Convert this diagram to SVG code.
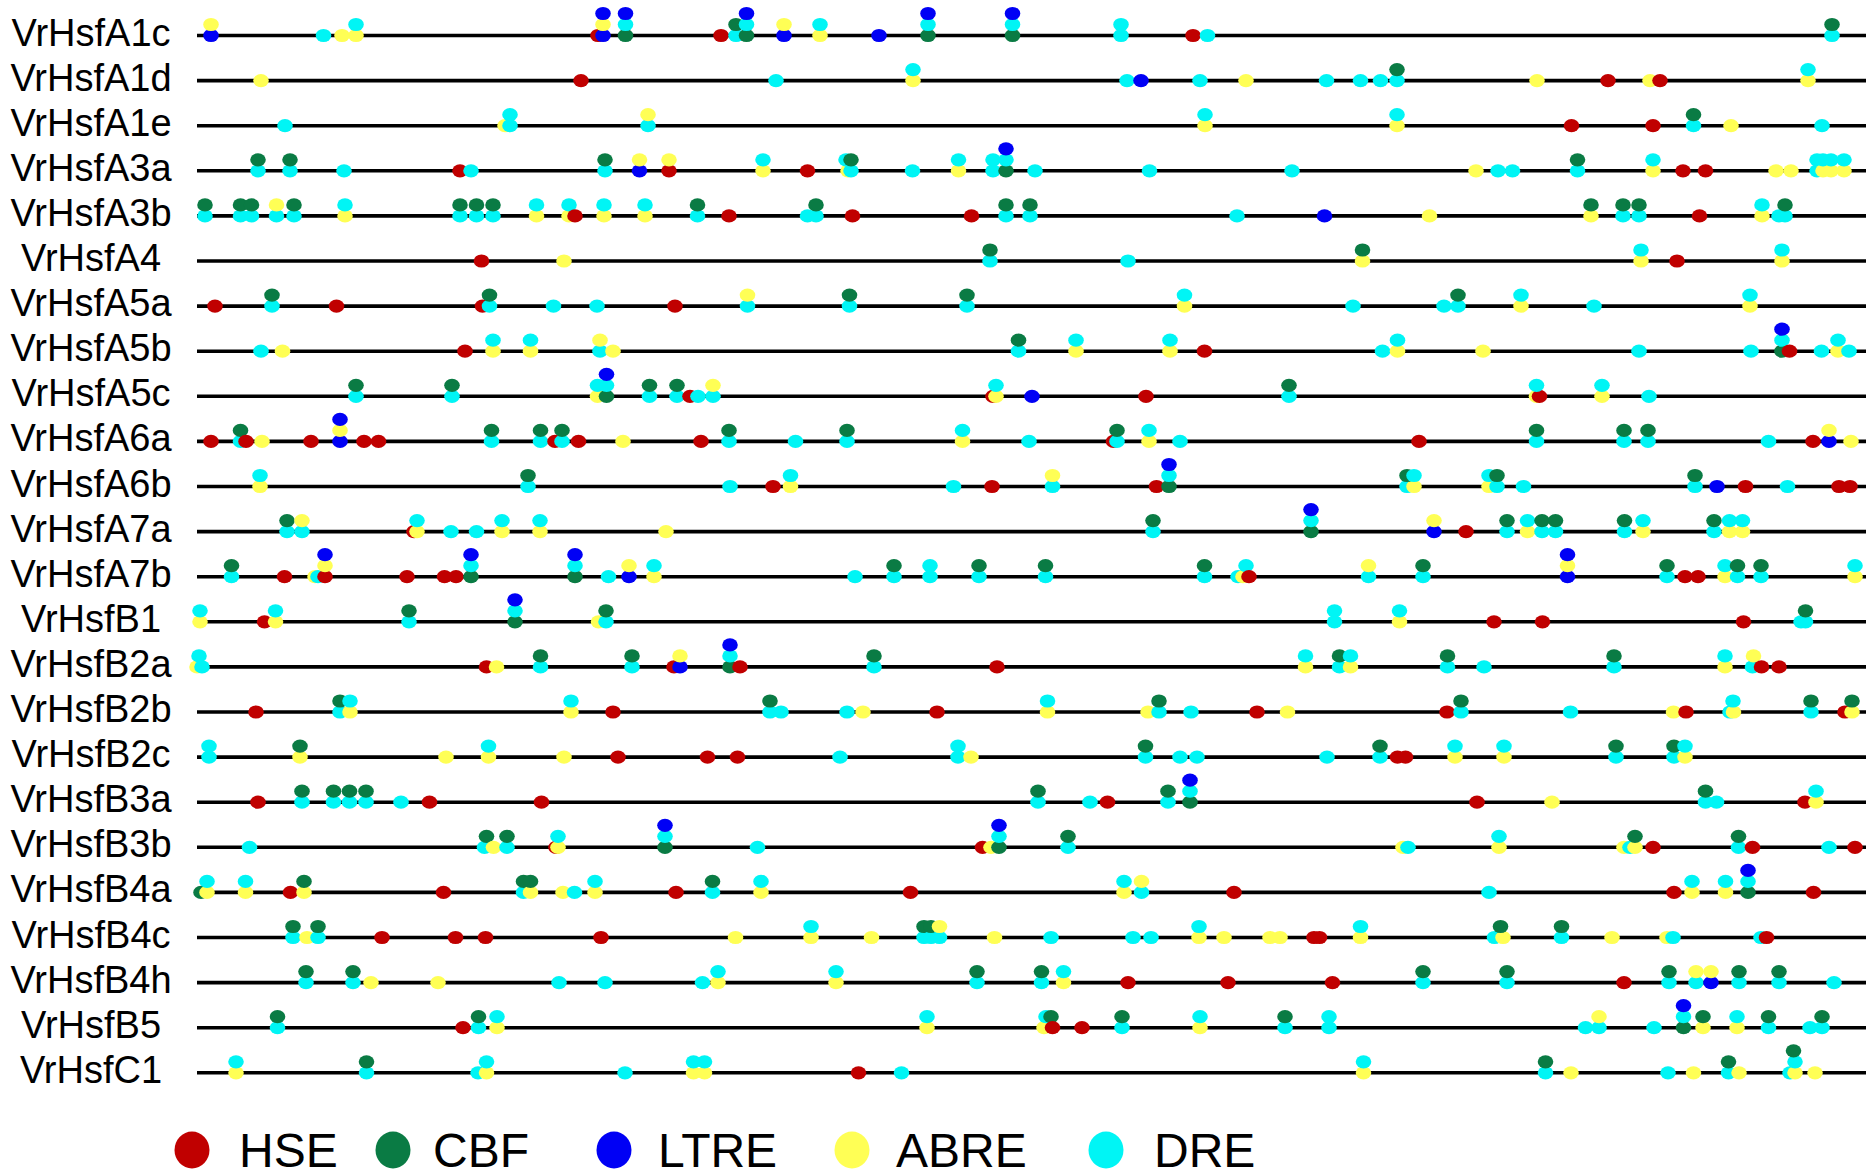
<svg xmlns="http://www.w3.org/2000/svg" xmlns:xlink="http://www.w3.org/1999/xlink" width="1870" height="1174" viewBox="0 0 1870 1174">
<style>
.ln{stroke:#000;stroke-width:3.6}
.lb{font-family:"Liberation Sans",Arial,sans-serif;font-size:38px;fill:#000;text-anchor:middle}
.lg{font-family:"Liberation Sans",Arial,sans-serif;font-size:48px;fill:#000}
</style>
<defs>
<ellipse id="h" rx="7.8" ry="6.6" fill="#c00000"/>
<ellipse id="c" rx="7.8" ry="6.6" fill="#0a7b44"/>
<ellipse id="l" rx="7.8" ry="6.6" fill="#0000f5"/>
<ellipse id="a" rx="7.8" ry="6.6" fill="#ffff55"/>
<ellipse id="d" rx="7.8" ry="6.6" fill="#00f5f5"/>
</defs>
<rect width="1870" height="1174" fill="#fff"/>

<g id="VrHsfA1c" transform="translate(0,35.5)">
<line class="ln" x1="197" x2="1866"/><text class="lb" x="91" y="10">VrHsfA1c</text>
<use href="#l" x="211"/><use href="#a" x="211" y="-11"/><use href="#d" x="323.5"/><use href="#a" x="342"/><use href="#a" x="356"/><use href="#d" x="356" y="-11"/>
<use href="#h" x="598"/><use href="#l" x="603"/><use href="#a" x="603" y="-11"/><use href="#l" x="603" y="-22"/><use href="#c" x="625.5"/><use href="#d" x="625.5" y="-11"/><use href="#l" x="625.5" y="-22"/>
<use href="#h" x="721"/><use href="#d" x="736"/><use href="#c" x="736" y="-11"/><use href="#c" x="746.5"/><use href="#d" x="746.5" y="-11"/><use href="#l" x="746.5" y="-22"/>
<use href="#l" x="784"/><use href="#a" x="784" y="-11"/><use href="#a" x="820"/><use href="#d" x="820" y="-11"/><use href="#l" x="879"/>
<use href="#c" x="928"/><use href="#d" x="928" y="-11"/><use href="#l" x="928" y="-22"/><use href="#c" x="1012.5"/><use href="#d" x="1012.5" y="-11"/><use href="#l" x="1012.5" y="-22"/>
<use href="#d" x="1121"/><use href="#d" x="1121" y="-11"/><use href="#h" x="1193"/><use href="#d" x="1207.5"/><use href="#d" x="1832"/><use href="#c" x="1832" y="-11"/>
</g>

<g id="VrHsfA1d" transform="translate(0,80.6)">
<line class="ln" x1="197" x2="1866"/><text class="lb" x="91" y="10">VrHsfA1d</text>
<use href="#a" x="261"/><use href="#h" x="581"/><use href="#d" x="776"/><use href="#a" x="913"/><use href="#d" x="913" y="-11"/><use href="#d" x="1127"/><use href="#l" x="1141"/><use href="#d" x="1200"/><use href="#a" x="1246"/>
<use href="#d" x="1326.5"/><use href="#d" x="1360.5"/><use href="#d" x="1380.5"/><use href="#d" x="1397"/><use href="#c" x="1397" y="-11"/><use href="#a" x="1537"/><use href="#h" x="1608"/><use href="#a" x="1650"/><use href="#h" x="1660"/><use href="#a" x="1808"/><use href="#d" x="1808" y="-11"/>
</g>

<g id="VrHsfA1e" transform="translate(0,125.7)">
<line class="ln" x1="197" x2="1866"/><text class="lb" x="91" y="10">VrHsfA1e</text>
<use href="#d" x="285"/><use href="#a" x="505"/><use href="#d" x="510"/><use href="#d" x="510" y="-11"/><use href="#d" x="648"/><use href="#a" x="648" y="-11"/><use href="#a" x="1205"/><use href="#d" x="1205" y="-11"/>
<use href="#a" x="1397"/><use href="#d" x="1397" y="-11"/><use href="#h" x="1571.5"/><use href="#h" x="1653"/><use href="#d" x="1693.5"/><use href="#c" x="1693.5" y="-11"/><use href="#a" x="1731"/><use href="#d" x="1822"/>
</g>

<g id="VrHsfA3a" transform="translate(0,170.8)">
<line class="ln" x1="197" x2="1866"/><text class="lb" x="91" y="10">VrHsfA3a</text>
<use href="#d" x="258"/><use href="#c" x="258" y="-11"/><use href="#d" x="290"/><use href="#c" x="290" y="-11"/><use href="#d" x="344"/><use href="#h" x="460"/><use href="#d" x="471"/><use href="#d" x="605"/><use href="#c" x="605" y="-11"/>
<use href="#l" x="639.5"/><use href="#a" x="639.5" y="-11"/><use href="#h" x="669"/><use href="#a" x="669" y="-11"/><use href="#a" x="763"/><use href="#d" x="763" y="-11"/><use href="#h" x="807.5"/>
<use href="#a" x="848"/><use href="#d" x="851"/><use href="#d" x="846" y="-11"/><use href="#c" x="851" y="-11"/><use href="#d" x="912.5"/><use href="#a" x="958.5"/><use href="#d" x="958.5" y="-11"/>
<use href="#d" x="993"/><use href="#d" x="993" y="-11"/><use href="#c" x="1006"/><use href="#d" x="1006" y="-11"/><use href="#l" x="1006" y="-22"/><use href="#d" x="1035"/><use href="#d" x="1149.5"/>
<use href="#d" x="1292"/><use href="#a" x="1476"/><use href="#d" x="1498"/><use href="#d" x="1512.5"/><use href="#d" x="1577.5"/><use href="#c" x="1577.5" y="-11"/><use href="#a" x="1653"/><use href="#d" x="1653" y="-11"/>
<use href="#h" x="1683"/><use href="#h" x="1705.5"/><use href="#a" x="1776"/><use href="#a" x="1791"/><use href="#d" x="1817"/><use href="#d" x="1817" y="-11"/><use href="#a" x="1823"/><use href="#d" x="1823" y="-11"/><use href="#a" x="1831"/><use href="#d" x="1831" y="-11"/><use href="#a" x="1844"/><use href="#d" x="1844" y="-11"/>
</g>

<g id="VrHsfA3b" transform="translate(0,215.9)">
<line class="ln" x1="197" x2="1866"/><text class="lb" x="91" y="10">VrHsfA3b</text>
<use href="#d" x="205"/><use href="#c" x="205" y="-11"/><use href="#d" x="240.5"/><use href="#c" x="240.5" y="-11"/><use href="#d" x="251.5"/><use href="#c" x="251.5" y="-11"/><use href="#d" x="276.5"/><use href="#a" x="276.5" y="-11"/><use href="#d" x="294"/><use href="#c" x="294" y="-11"/>
<use href="#a" x="345"/><use href="#d" x="345" y="-11"/><use href="#d" x="460"/><use href="#c" x="460" y="-11"/><use href="#d" x="476.5"/><use href="#c" x="476.5" y="-11"/><use href="#d" x="493"/><use href="#c" x="493" y="-11"/>
<use href="#a" x="536.5"/><use href="#d" x="536.5" y="-11"/><use href="#a" x="569"/><use href="#d" x="569" y="-11"/><use href="#h" x="575"/><use href="#a" x="604"/><use href="#d" x="604" y="-11"/><use href="#a" x="645"/><use href="#d" x="645" y="-11"/>
<use href="#d" x="697.5"/><use href="#c" x="697.5" y="-11"/><use href="#h" x="729"/><use href="#d" x="807.5"/><use href="#d" x="816"/><use href="#c" x="816" y="-11"/><use href="#h" x="852.5"/><use href="#h" x="971.5"/>
<use href="#d" x="1006"/><use href="#c" x="1006" y="-11"/><use href="#d" x="1030"/><use href="#c" x="1030" y="-11"/><use href="#d" x="1237"/><use href="#l" x="1324.5"/><use href="#a" x="1429.5"/>
<use href="#a" x="1591"/><use href="#c" x="1591" y="-11"/><use href="#d" x="1623"/><use href="#c" x="1623" y="-11"/><use href="#d" x="1639"/><use href="#c" x="1639" y="-11"/><use href="#h" x="1699.5"/><use href="#a" x="1762"/><use href="#d" x="1762" y="-11"/><use href="#d" x="1779"/><use href="#d" x="1785"/><use href="#c" x="1785" y="-11"/>
</g>

<g id="VrHsfA4" transform="translate(0,261)">
<line class="ln" x1="197" x2="1866"/><text class="lb" x="91" y="10">VrHsfA4</text>
<use href="#h" x="481.5"/><use href="#a" x="564"/><use href="#d" x="990"/><use href="#c" x="990" y="-11"/><use href="#d" x="1128"/><use href="#a" x="1362.5"/><use href="#c" x="1362.5" y="-11"/>
<use href="#a" x="1641"/><use href="#d" x="1641" y="-11"/><use href="#h" x="1677"/><use href="#a" x="1782"/><use href="#d" x="1782" y="-11"/>
</g>

<g id="VrHsfA5a" transform="translate(0,306.1)">
<line class="ln" x1="197" x2="1866"/><text class="lb" x="91" y="10">VrHsfA5a</text>
<use href="#h" x="215"/><use href="#d" x="272"/><use href="#c" x="272" y="-11"/><use href="#h" x="336.5"/><use href="#h" x="482.5"/><use href="#d" x="489.5"/><use href="#c" x="489.5" y="-11"/><use href="#d" x="553.5"/><use href="#d" x="597"/>
<use href="#h" x="675"/><use href="#d" x="747.5"/><use href="#a" x="747.5" y="-11"/><use href="#d" x="849.5"/><use href="#c" x="849.5" y="-11"/><use href="#d" x="967"/><use href="#c" x="967" y="-11"/><use href="#a" x="1184.5"/><use href="#d" x="1184.5" y="-11"/>
<use href="#d" x="1353"/><use href="#d" x="1444"/><use href="#d" x="1458"/><use href="#c" x="1458" y="-11"/><use href="#a" x="1521"/><use href="#d" x="1521" y="-11"/><use href="#d" x="1594"/><use href="#a" x="1750"/><use href="#d" x="1750" y="-11"/>
</g>

<g id="VrHsfA5b" transform="translate(0,351.2)">
<line class="ln" x1="197" x2="1866"/><text class="lb" x="91" y="10">VrHsfA5b</text>
<use href="#d" x="261"/><use href="#a" x="282.5"/><use href="#h" x="465"/><use href="#a" x="493"/><use href="#d" x="493" y="-11"/><use href="#a" x="530.5"/><use href="#d" x="530.5" y="-11"/><use href="#d" x="600"/><use href="#a" x="600" y="-11"/><use href="#a" x="613"/>
<use href="#d" x="1018.5"/><use href="#c" x="1018.5" y="-11"/><use href="#a" x="1076"/><use href="#d" x="1076" y="-11"/><use href="#a" x="1170"/><use href="#d" x="1170" y="-11"/><use href="#h" x="1204.5"/>
<use href="#d" x="1382.5"/><use href="#a" x="1397.5"/><use href="#d" x="1397.5" y="-11"/><use href="#a" x="1483"/><use href="#d" x="1639"/><use href="#d" x="1751"/><use href="#c" x="1782"/><use href="#d" x="1782" y="-11"/><use href="#l" x="1782" y="-22"/><use href="#h" x="1789.5"/>
<use href="#d" x="1821.5"/><use href="#a" x="1838"/><use href="#d" x="1838" y="-11"/><use href="#d" x="1849"/>
</g>

<g id="VrHsfA5c" transform="translate(0,396.3)">
<line class="ln" x1="197" x2="1866"/><text class="lb" x="91" y="10">VrHsfA5c</text>
<use href="#d" x="356"/><use href="#c" x="356" y="-11"/><use href="#d" x="452"/><use href="#c" x="452" y="-11"/><use href="#a" x="597.5"/><use href="#d" x="597.5" y="-11"/><use href="#c" x="606.5"/><use href="#d" x="606.5" y="-11"/><use href="#l" x="606.5" y="-22"/>
<use href="#d" x="649.5"/><use href="#c" x="649.5" y="-11"/><use href="#d" x="677"/><use href="#c" x="677" y="-11"/><use href="#h" x="690"/><use href="#d" x="698"/><use href="#d" x="713"/><use href="#a" x="713" y="-11"/>
<use href="#h" x="993"/><use href="#a" x="996"/><use href="#d" x="996" y="-11"/><use href="#l" x="1032"/><use href="#h" x="1146"/><use href="#d" x="1289"/><use href="#c" x="1289" y="-11"/>
<use href="#a" x="1536.5"/><use href="#h" x="1539.5"/><use href="#d" x="1536.5" y="-11"/><use href="#a" x="1602"/><use href="#d" x="1602" y="-11"/><use href="#d" x="1649"/>
</g>

<g id="VrHsfA6a" transform="translate(0,441.4)">
<line class="ln" x1="197" x2="1866"/><text class="lb" x="91" y="10">VrHsfA6a</text>
<use href="#h" x="211"/><use href="#d" x="240.5"/><use href="#c" x="240.5" y="-11"/><use href="#h" x="246"/><use href="#a" x="262"/><use href="#h" x="311"/><use href="#l" x="340"/><use href="#a" x="340" y="-11"/><use href="#l" x="340" y="-22"/>
<use href="#h" x="364"/><use href="#h" x="378.5"/><use href="#d" x="491.5"/><use href="#c" x="491.5" y="-11"/><use href="#d" x="540.5"/><use href="#c" x="540.5" y="-11"/><use href="#h" x="555"/><use href="#d" x="562"/><use href="#c" x="562" y="-11"/><use href="#h" x="578.5"/><use href="#a" x="623"/>
<use href="#h" x="701"/><use href="#d" x="729"/><use href="#c" x="729" y="-11"/><use href="#d" x="795.5"/><use href="#d" x="847"/><use href="#c" x="847" y="-11"/><use href="#a" x="962.5"/><use href="#d" x="962.5" y="-11"/><use href="#d" x="1029"/>
<use href="#h" x="1113.5"/><use href="#d" x="1117"/><use href="#c" x="1117" y="-11"/><use href="#a" x="1149"/><use href="#d" x="1149" y="-11"/><use href="#d" x="1180"/><use href="#h" x="1419"/>
<use href="#d" x="1536.5"/><use href="#c" x="1536.5" y="-11"/><use href="#d" x="1624"/><use href="#c" x="1624" y="-11"/><use href="#d" x="1648"/><use href="#c" x="1648" y="-11"/><use href="#d" x="1768.5"/><use href="#h" x="1813"/><use href="#l" x="1829"/><use href="#a" x="1829" y="-11"/><use href="#a" x="1851"/>
</g>

<g id="VrHsfA6b" transform="translate(0,486.5)">
<line class="ln" x1="197" x2="1866"/><text class="lb" x="91" y="10">VrHsfA6b</text>
<use href="#a" x="260"/><use href="#d" x="260" y="-11"/><use href="#d" x="528"/><use href="#c" x="528" y="-11"/><use href="#d" x="730"/><use href="#h" x="773"/><use href="#a" x="790.5"/><use href="#d" x="790.5" y="-11"/>
<use href="#d" x="953.5"/><use href="#h" x="992"/><use href="#d" x="1052.5"/><use href="#a" x="1052.5" y="-11"/><use href="#h" x="1156.5"/><use href="#c" x="1169"/><use href="#d" x="1169" y="-11"/><use href="#l" x="1169" y="-22"/>
<use href="#d" x="1407"/><use href="#a" x="1414"/><use href="#c" x="1407" y="-11"/><use href="#d" x="1414" y="-11"/><use href="#a" x="1489"/><use href="#d" x="1497"/><use href="#d" x="1489" y="-11"/><use href="#c" x="1497" y="-11"/><use href="#d" x="1523.5"/>
<use href="#d" x="1695"/><use href="#c" x="1695" y="-11"/><use href="#l" x="1717"/><use href="#h" x="1745.5"/><use href="#d" x="1787.5"/><use href="#h" x="1839"/><use href="#h" x="1850"/>
</g>

<g id="VrHsfA7a" transform="translate(0,531.6)">
<line class="ln" x1="197" x2="1866"/><text class="lb" x="91" y="10">VrHsfA7a</text>
<use href="#d" x="287"/><use href="#c" x="287" y="-11"/><use href="#d" x="302"/><use href="#a" x="302" y="-11"/><use href="#h" x="414"/><use href="#a" x="417"/><use href="#d" x="417" y="-11"/><use href="#d" x="451"/><use href="#d" x="476.5"/>
<use href="#a" x="502"/><use href="#d" x="502" y="-11"/><use href="#a" x="540"/><use href="#d" x="540" y="-11"/><use href="#a" x="666"/><use href="#d" x="1153"/><use href="#c" x="1153" y="-11"/>
<use href="#c" x="1311"/><use href="#d" x="1311" y="-11"/><use href="#l" x="1311" y="-22"/><use href="#l" x="1434"/><use href="#a" x="1434" y="-11"/><use href="#h" x="1466"/>
<use href="#d" x="1507"/><use href="#c" x="1507" y="-11"/><use href="#a" x="1527.5"/><use href="#d" x="1527.5" y="-11"/><use href="#d" x="1542"/><use href="#c" x="1542" y="-11"/><use href="#d" x="1555.5"/><use href="#c" x="1555.5" y="-11"/>
<use href="#d" x="1624.5"/><use href="#c" x="1624.5" y="-11"/><use href="#a" x="1643"/><use href="#d" x="1643" y="-11"/><use href="#d" x="1714"/><use href="#c" x="1714" y="-11"/><use href="#a" x="1729.5"/><use href="#d" x="1729.5" y="-11"/><use href="#a" x="1742.5"/><use href="#d" x="1742.5" y="-11"/>
</g>

<g id="VrHsfA7b" transform="translate(0,576.7)">
<line class="ln" x1="197" x2="1866"/><text class="lb" x="91" y="10">VrHsfA7b</text>
<use href="#d" x="231.5"/><use href="#c" x="231.5" y="-11"/><use href="#h" x="284.5"/><use href="#a" x="315"/><use href="#d" x="318"/><use href="#h" x="325"/><use href="#a" x="325" y="-11"/><use href="#l" x="325" y="-22"/>
<use href="#h" x="407"/><use href="#h" x="444.5"/><use href="#h" x="456"/><use href="#c" x="471"/><use href="#d" x="471" y="-11"/><use href="#l" x="471" y="-22"/><use href="#c" x="575"/><use href="#d" x="575" y="-11"/><use href="#l" x="575" y="-22"/>
<use href="#d" x="608.5"/><use href="#l" x="629"/><use href="#a" x="629" y="-11"/><use href="#a" x="654"/><use href="#d" x="654" y="-11"/><use href="#d" x="855"/><use href="#d" x="894"/><use href="#c" x="894" y="-11"/><use href="#d" x="930"/><use href="#d" x="930" y="-11"/>
<use href="#d" x="979"/><use href="#c" x="979" y="-11"/><use href="#d" x="1045.5"/><use href="#c" x="1045.5" y="-11"/><use href="#d" x="1204.5"/><use href="#c" x="1204.5" y="-11"/><use href="#d" x="1238"/><use href="#a" x="1243"/><use href="#d" x="1246" y="-11"/><use href="#h" x="1249"/>
<use href="#d" x="1368.5"/><use href="#a" x="1368.5" y="-11"/><use href="#d" x="1423"/><use href="#c" x="1423" y="-11"/><use href="#l" x="1567.5"/><use href="#a" x="1567.5" y="-11"/><use href="#l" x="1567.5" y="-22"/>
<use href="#d" x="1667"/><use href="#c" x="1667" y="-11"/><use href="#h" x="1685"/><use href="#h" x="1698"/><use href="#a" x="1725"/><use href="#d" x="1725" y="-11"/><use href="#d" x="1737.5"/><use href="#c" x="1737.5" y="-11"/><use href="#d" x="1761"/><use href="#c" x="1761" y="-11"/><use href="#a" x="1855"/><use href="#d" x="1855" y="-11"/>
</g>

<g id="VrHsfB1" transform="translate(0,621.8)">
<line class="ln" x1="197" x2="1866"/><text class="lb" x="91" y="10">VrHsfB1</text>
<use href="#a" x="200"/><use href="#d" x="200" y="-11"/><use href="#h" x="264.5"/><use href="#a" x="275.5"/><use href="#d" x="275.5" y="-11"/><use href="#d" x="409"/><use href="#c" x="409" y="-11"/><use href="#c" x="515"/><use href="#d" x="515" y="-11"/><use href="#l" x="515" y="-22"/>
<use href="#a" x="598.5"/><use href="#d" x="606"/><use href="#c" x="606" y="-11"/><use href="#d" x="1334.5"/><use href="#d" x="1334.5" y="-11"/><use href="#a" x="1399.5"/><use href="#d" x="1399.5" y="-11"/>
<use href="#h" x="1494"/><use href="#h" x="1542.5"/><use href="#h" x="1743.5"/><use href="#d" x="1801"/><use href="#d" x="1805.5"/><use href="#c" x="1805.5" y="-11"/>
</g>

<g id="VrHsfB2a" transform="translate(0,666.9)">
<line class="ln" x1="197" x2="1866"/><text class="lb" x="91" y="10">VrHsfB2a</text>
<use href="#a" x="197"/><use href="#d" x="202"/><use href="#d" x="199" y="-11"/><use href="#h" x="486.5"/><use href="#a" x="496.5"/><use href="#d" x="540.5"/><use href="#c" x="540.5" y="-11"/><use href="#d" x="632"/><use href="#c" x="632" y="-11"/>
<use href="#h" x="674"/><use href="#l" x="680"/><use href="#a" x="680" y="-11"/><use href="#c" x="730"/><use href="#d" x="730" y="-11"/><use href="#l" x="730" y="-22"/><use href="#h" x="740"/><use href="#d" x="874"/><use href="#c" x="874" y="-11"/><use href="#h" x="997"/>
<use href="#a" x="1305.5"/><use href="#d" x="1305.5" y="-11"/><use href="#d" x="1339.5"/><use href="#c" x="1339.5" y="-11"/><use href="#a" x="1350.5"/><use href="#d" x="1350.5" y="-11"/><use href="#d" x="1447.5"/><use href="#c" x="1447.5" y="-11"/><use href="#d" x="1484"/>
<use href="#d" x="1614"/><use href="#c" x="1614" y="-11"/><use href="#a" x="1725"/><use href="#d" x="1725" y="-11"/><use href="#d" x="1752.5"/><use href="#a" x="1753.5" y="-11"/><use href="#h" x="1761.5"/><use href="#h" x="1779"/>
</g>

<g id="VrHsfB2b" transform="translate(0,712)">
<line class="ln" x1="197" x2="1866"/><text class="lb" x="91" y="10">VrHsfB2b</text>
<use href="#h" x="256"/><use href="#d" x="340"/><use href="#c" x="340" y="-11"/><use href="#a" x="350"/><use href="#d" x="350" y="-11"/><use href="#a" x="571"/><use href="#d" x="571" y="-11"/><use href="#h" x="613"/>
<use href="#d" x="770"/><use href="#c" x="770" y="-11"/><use href="#d" x="781"/><use href="#d" x="847"/><use href="#a" x="863"/><use href="#h" x="937"/><use href="#a" x="1047.5"/><use href="#d" x="1047.5" y="-11"/>
<use href="#a" x="1148"/><use href="#d" x="1159"/><use href="#c" x="1159" y="-11"/><use href="#d" x="1191"/><use href="#h" x="1257"/><use href="#a" x="1287.5"/><use href="#h" x="1447"/><use href="#d" x="1461"/><use href="#c" x="1461" y="-11"/><use href="#d" x="1570.5"/>
<use href="#a" x="1673.5"/><use href="#h" x="1686"/><use href="#d" x="1730"/><use href="#a" x="1733.5"/><use href="#d" x="1733" y="-11"/><use href="#d" x="1811"/><use href="#c" x="1811" y="-11"/><use href="#h" x="1845"/><use href="#a" x="1852"/><use href="#c" x="1852" y="-11"/>
</g>

<g id="VrHsfB2c" transform="translate(0,757.1)">
<line class="ln" x1="197" x2="1866"/><text class="lb" x="91" y="10">VrHsfB2c</text>
<use href="#d" x="209"/><use href="#d" x="209" y="-11"/><use href="#a" x="300"/><use href="#c" x="300" y="-11"/><use href="#a" x="446"/><use href="#a" x="488.5"/><use href="#d" x="488.5" y="-11"/><use href="#a" x="564"/><use href="#h" x="618"/>
<use href="#h" x="707.5"/><use href="#h" x="737.5"/><use href="#d" x="840"/><use href="#d" x="958"/><use href="#d" x="958" y="-11"/><use href="#a" x="971"/><use href="#d" x="1145.5"/><use href="#c" x="1145.5" y="-11"/><use href="#d" x="1180"/><use href="#d" x="1197"/>
<use href="#d" x="1327"/><use href="#d" x="1380"/><use href="#c" x="1380" y="-11"/><use href="#h" x="1397.5"/><use href="#h" x="1405.5"/><use href="#a" x="1455"/><use href="#d" x="1455" y="-11"/><use href="#a" x="1504"/><use href="#d" x="1504" y="-11"/>
<use href="#d" x="1616"/><use href="#c" x="1616" y="-11"/><use href="#d" x="1674"/><use href="#c" x="1674" y="-11"/><use href="#a" x="1685"/><use href="#d" x="1685" y="-11"/>
</g>

<g id="VrHsfB3a" transform="translate(0,802.2)">
<line class="ln" x1="197" x2="1866"/><text class="lb" x="91" y="10">VrHsfB3a</text>
<use href="#h" x="258"/><use href="#d" x="302"/><use href="#c" x="302" y="-11"/><use href="#d" x="333.5"/><use href="#c" x="333.5" y="-11"/><use href="#d" x="349.5"/><use href="#c" x="349.5" y="-11"/><use href="#d" x="366"/><use href="#c" x="366" y="-11"/>
<use href="#d" x="401"/><use href="#h" x="429.5"/><use href="#h" x="541.5"/><use href="#d" x="1038"/><use href="#c" x="1038" y="-11"/><use href="#d" x="1090"/><use href="#h" x="1107.5"/><use href="#d" x="1168"/><use href="#c" x="1168" y="-11"/>
<use href="#c" x="1190"/><use href="#d" x="1190" y="-11"/><use href="#l" x="1190" y="-22"/><use href="#h" x="1477"/><use href="#a" x="1552"/><use href="#d" x="1705.5"/><use href="#c" x="1705.5" y="-11"/><use href="#d" x="1716.5"/>
<use href="#h" x="1805"/><use href="#a" x="1816"/><use href="#d" x="1816" y="-11"/>
</g>

<g id="VrHsfB3b" transform="translate(0,847.3)">
<line class="ln" x1="197" x2="1866"/><text class="lb" x="91" y="10">VrHsfB3b</text>
<use href="#d" x="249.5"/><use href="#d" x="484.5"/><use href="#c" x="486.5" y="-11"/><use href="#a" x="493.5"/><use href="#d" x="507"/><use href="#c" x="507" y="-11"/><use href="#h" x="556"/><use href="#a" x="558"/><use href="#d" x="558" y="-11"/>
<use href="#c" x="665"/><use href="#d" x="665" y="-11"/><use href="#l" x="665" y="-22"/><use href="#d" x="757.5"/><use href="#h" x="982.5"/><use href="#a" x="991"/><use href="#c" x="999"/><use href="#d" x="999" y="-11"/><use href="#l" x="999" y="-22"/>
<use href="#d" x="1068"/><use href="#c" x="1068" y="-11"/><use href="#a" x="1403"/><use href="#d" x="1408"/><use href="#a" x="1499"/><use href="#d" x="1499" y="-11"/><use href="#a" x="1624"/><use href="#d" x="1630"/><use href="#a" x="1635"/><use href="#c" x="1635" y="-11"/>
<use href="#h" x="1653"/><use href="#d" x="1738.5"/><use href="#c" x="1738.5" y="-11"/><use href="#h" x="1752.5"/><use href="#d" x="1829"/><use href="#h" x="1855"/>
</g>

<g id="VrHsfB4a" transform="translate(0,892.4)">
<line class="ln" x1="197" x2="1866"/><text class="lb" x="91" y="10">VrHsfB4a</text>
<use href="#c" x="201"/><use href="#a" x="207"/><use href="#d" x="207" y="-11"/><use href="#a" x="245.5"/><use href="#d" x="245.5" y="-11"/><use href="#h" x="290.5"/><use href="#a" x="304"/><use href="#c" x="304" y="-11"/><use href="#h" x="443.5"/>
<use href="#d" x="523.5"/><use href="#c" x="523.5" y="-11"/><use href="#a" x="530.5"/><use href="#c" x="530.5" y="-11"/><use href="#a" x="563"/><use href="#d" x="574.5"/><use href="#a" x="595"/><use href="#d" x="595" y="-11"/>
<use href="#h" x="676"/><use href="#d" x="712.5"/><use href="#c" x="712.5" y="-11"/><use href="#a" x="761"/><use href="#d" x="761" y="-11"/><use href="#h" x="910.5"/><use href="#a" x="1124"/><use href="#d" x="1124" y="-11"/><use href="#d" x="1141.5"/><use href="#a" x="1141.5" y="-11"/><use href="#h" x="1234"/>
<use href="#d" x="1489"/><use href="#h" x="1674"/><use href="#a" x="1692"/><use href="#d" x="1692" y="-11"/><use href="#a" x="1725.5"/><use href="#d" x="1725.5" y="-11"/><use href="#c" x="1748"/><use href="#d" x="1748" y="-11"/><use href="#l" x="1748" y="-22"/><use href="#h" x="1813.5"/>
</g>

<g id="VrHsfB4c" transform="translate(0,937.5)">
<line class="ln" x1="197" x2="1866"/><text class="lb" x="91" y="10">VrHsfB4c</text>
<use href="#d" x="293"/><use href="#c" x="293" y="-11"/><use href="#a" x="307"/><use href="#d" x="318"/><use href="#c" x="318" y="-11"/><use href="#h" x="382"/><use href="#h" x="455.5"/><use href="#h" x="485.5"/><use href="#h" x="601"/>
<use href="#a" x="735.5"/><use href="#a" x="811"/><use href="#d" x="811" y="-11"/><use href="#a" x="871.5"/><use href="#d" x="924"/><use href="#c" x="924" y="-11"/><use href="#d" x="931"/><use href="#c" x="931" y="-11"/><use href="#d" x="939.5"/><use href="#a" x="939.5" y="-11"/>
<use href="#a" x="994.5"/><use href="#d" x="1051"/><use href="#d" x="1133"/><use href="#d" x="1151"/><use href="#a" x="1199"/><use href="#d" x="1199" y="-11"/><use href="#a" x="1224"/>
<use href="#a" x="1270"/><use href="#a" x="1280"/><use href="#h" x="1314"/><use href="#h" x="1319.5"/><use href="#a" x="1360.5"/><use href="#d" x="1360.5" y="-11"/><use href="#d" x="1494.5"/><use href="#a" x="1503"/><use href="#c" x="1500.5" y="-11"/>
<use href="#d" x="1561.5"/><use href="#c" x="1561.5" y="-11"/><use href="#a" x="1612"/><use href="#a" x="1667"/><use href="#d" x="1673"/><use href="#d" x="1761"/><use href="#h" x="1766.5"/>
</g>

<g id="VrHsfB4h" transform="translate(0,982.6)">
<line class="ln" x1="197" x2="1866"/><text class="lb" x="91" y="10">VrHsfB4h</text>
<use href="#d" x="306"/><use href="#c" x="306" y="-11"/><use href="#d" x="353"/><use href="#c" x="353" y="-11"/><use href="#a" x="371"/><use href="#a" x="438"/><use href="#d" x="559"/><use href="#d" x="605"/>
<use href="#d" x="702.5"/><use href="#a" x="718"/><use href="#d" x="718" y="-11"/><use href="#a" x="836"/><use href="#d" x="836" y="-11"/><use href="#d" x="977"/><use href="#c" x="977" y="-11"/><use href="#d" x="1041.5"/><use href="#c" x="1041.5" y="-11"/><use href="#a" x="1063.5"/><use href="#d" x="1063.5" y="-11"/>
<use href="#h" x="1128"/><use href="#h" x="1228"/><use href="#h" x="1332.5"/><use href="#d" x="1423"/><use href="#c" x="1423" y="-11"/><use href="#d" x="1507"/><use href="#c" x="1507" y="-11"/><use href="#h" x="1624"/>
<use href="#d" x="1669"/><use href="#c" x="1669" y="-11"/><use href="#d" x="1696"/><use href="#a" x="1696" y="-11"/><use href="#l" x="1711"/><use href="#a" x="1711" y="-11"/><use href="#d" x="1739"/><use href="#c" x="1739" y="-11"/><use href="#d" x="1779"/><use href="#c" x="1779" y="-11"/><use href="#d" x="1834"/>
</g>

<g id="VrHsfB5" transform="translate(0,1027.7)">
<line class="ln" x1="197" x2="1866"/><text class="lb" x="91" y="10">VrHsfB5</text>
<use href="#d" x="277.5"/><use href="#c" x="277.5" y="-11"/><use href="#h" x="463"/><use href="#d" x="478.5"/><use href="#c" x="478.5" y="-11"/><use href="#a" x="497"/><use href="#d" x="497" y="-11"/>
<use href="#a" x="927"/><use href="#d" x="927" y="-11"/><use href="#a" x="1044"/><use href="#d" x="1046" y="-11"/><use href="#c" x="1051" y="-11"/><use href="#h" x="1052.5"/><use href="#h" x="1082"/><use href="#d" x="1122"/><use href="#c" x="1122" y="-11"/><use href="#a" x="1200"/><use href="#d" x="1200" y="-11"/>
<use href="#d" x="1285"/><use href="#c" x="1285" y="-11"/><use href="#d" x="1329"/><use href="#d" x="1329" y="-11"/><use href="#d" x="1585.5"/><use href="#d" x="1599"/><use href="#a" x="1599" y="-11"/><use href="#d" x="1654"/>
<use href="#c" x="1683.5"/><use href="#d" x="1683.5" y="-11"/><use href="#l" x="1683.5" y="-22"/><use href="#a" x="1703"/><use href="#c" x="1703" y="-11"/><use href="#a" x="1737"/><use href="#d" x="1737" y="-11"/><use href="#d" x="1768.5"/><use href="#c" x="1768.5" y="-11"/><use href="#d" x="1810"/><use href="#d" x="1822"/><use href="#c" x="1822" y="-11"/>
</g>

<g id="VrHsfC1" transform="translate(0,1072.8)">
<line class="ln" x1="197" x2="1866"/><text class="lb" x="91" y="10">VrHsfC1</text>
<use href="#a" x="236"/><use href="#d" x="236" y="-11"/><use href="#d" x="366.5"/><use href="#c" x="366.5" y="-11"/><use href="#d" x="478"/><use href="#a" x="486.5"/><use href="#d" x="486.5" y="-11"/><use href="#d" x="625"/>
<use href="#a" x="693.5"/><use href="#d" x="693.5" y="-11"/><use href="#a" x="704.5"/><use href="#d" x="704.5" y="-11"/><use href="#h" x="858.5"/><use href="#d" x="901.5"/>
<use href="#a" x="1363.5"/><use href="#d" x="1363.5" y="-11"/><use href="#d" x="1545.5"/><use href="#c" x="1545.5" y="-11"/><use href="#a" x="1571"/><use href="#d" x="1668"/><use href="#a" x="1693.5"/><use href="#d" x="1728.5"/><use href="#c" x="1728.5" y="-11"/><use href="#a" x="1739"/>
<use href="#d" x="1790"/><use href="#a" x="1795"/><use href="#d" x="1795" y="-11"/><use href="#c" x="1793.5" y="-22"/><use href="#a" x="1815"/>
</g>

<g id="legend">
<ellipse cx="192" cy="1150" rx="17.5" ry="18.5" fill="#c00000"/><text class="lg" x="239" y="1167">HSE</text>
<ellipse cx="393" cy="1150" rx="17.5" ry="18.5" fill="#0a7b44"/><text class="lg" x="433" y="1167">CBF</text>
<ellipse cx="614" cy="1150" rx="17.5" ry="18.5" fill="#0000f5"/><text class="lg" x="658" y="1167">LTRE</text>
<ellipse cx="852" cy="1150" rx="17.5" ry="18.5" fill="#ffff55"/><text class="lg" x="896" y="1167">ABRE</text>
<ellipse cx="1106" cy="1150" rx="17.5" ry="18.5" fill="#00f5f5"/><text class="lg" x="1154" y="1167">DRE</text>
</g>
</svg>
